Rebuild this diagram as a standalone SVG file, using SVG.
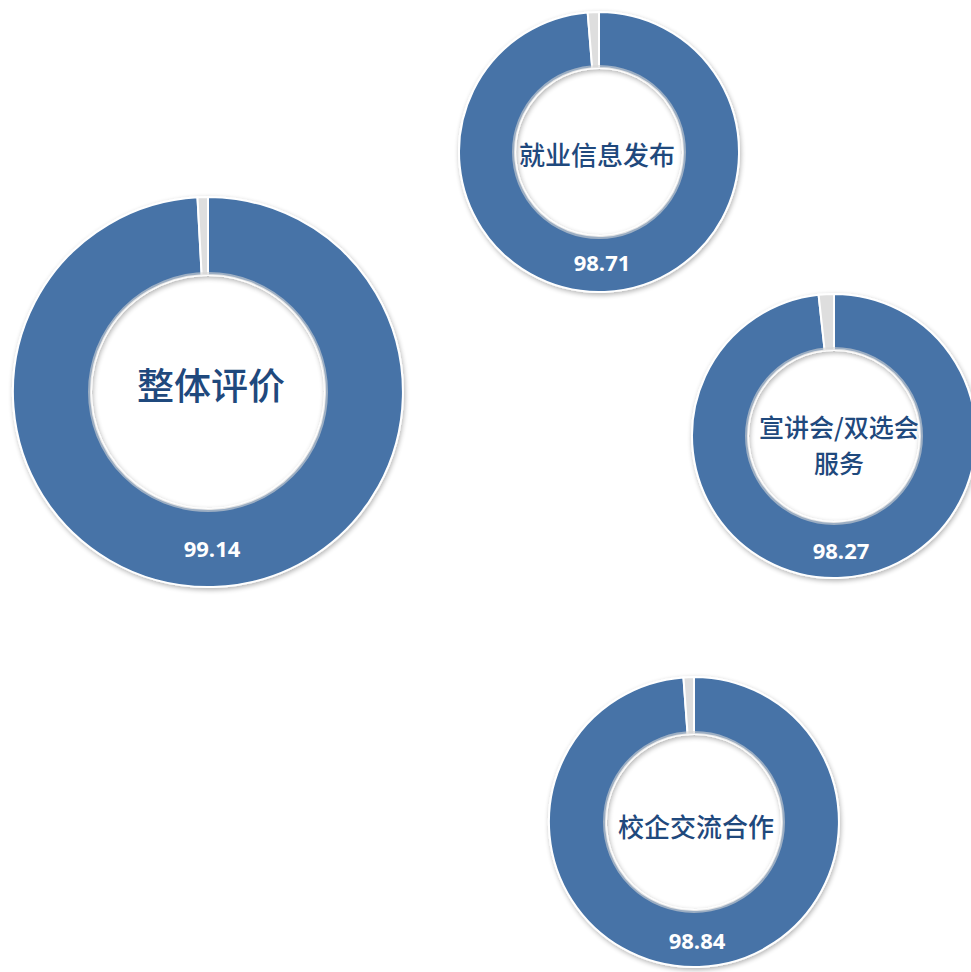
<svg xmlns="http://www.w3.org/2000/svg" width="971" height="972" viewBox="0 0 971 972">
<defs>
<filter id="sh" x="-10%" y="-10%" width="120%" height="120%">
<feGaussianBlur in="SourceAlpha" stdDeviation="2.5"/>
<feOffset dx="1" dy="2" result="b"/>
<feComponentTransfer><feFuncA type="linear" slope="0.3"/></feComponentTransfer>
<feMerge><feMergeNode/><feMergeNode in="SourceGraphic"/></feMerge>
</filter>
<style>
.blue{fill:#4673A7;stroke:#ffffff;stroke-width:2}
.gray{fill:#DEDEDE;stroke:#ffffff;stroke-width:2}
.hole{fill:none;stroke:#d6d6d6;stroke-width:3;opacity:0.6}
.lab{font-family:"Noto Sans CJK SC","Microsoft YaHei",sans-serif;font-weight:500;fill:#1F497D;text-anchor:middle;dominant-baseline:central}
.num{font-family:"Open Sans","Liberation Sans",sans-serif;font-weight:bold;font-size:22px;fill:#ffffff;text-anchor:middle;dominant-baseline:central}
</style>
</defs>
<rect width="971" height="972" fill="#ffffff"/>

<g id="overall">
<g filter="url(#sh)">
<path class="blue" d="M208,197 A195,195 0 1 1 197.47,197.28 L201.68,275.17 A117,117 0 1 0 208,275 Z"/>
<path class="gray" d="M197.47,197.28 A195,195 0 0 1 208,197 L208,275 A117,117 0 0 0 201.68,275.17 Z"/>
</g>
<circle class="hole" cx="208" cy="392" r="118.5"/>
<text class="lab" x="211" y="384" font-size="37">整体评价</text>
<text class="num" x="212" y="548">99.14</text>
</g>

<g id="info">
<g filter="url(#sh)">
<path class="blue" d="M599,12 A140,140 0 1 1 587.67,12.46 L592.20,68.28 A84,84 0 1 0 599,68 Z"/>
<path class="gray" d="M587.67,12.46 A140,140 0 0 1 599,12 L599,68 A84,84 0 0 0 592.20,68.28 Z"/>
</g>
<circle class="hole" cx="599" cy="152" r="85.5"/>
<text class="lab" x="597" y="153" font-size="26">就业信息发布</text>
<text class="num" x="602" y="262">98.71</text>
</g>

<g id="fair">
<g filter="url(#sh)">
<path class="blue" d="M834,294 A142,142 0 1 1 818.59,294.84 L824.67,350.51 A86,86 0 1 0 834,350 Z"/>
<path class="gray" d="M818.59,294.84 A142,142 0 0 1 834,294 L834,350 A86,86 0 0 0 824.67,350.51 Z"/>
</g>
<circle class="hole" cx="834" cy="436" r="87.5"/>
<text class="lab" x="839" y="426" font-size="25">宣讲会/双选会</text>
<text class="lab" x="839" y="462" font-size="25">服务</text>
<text class="num" x="841" y="550">98.27</text>
</g>

<g id="coop">
<g filter="url(#sh)">
<path class="blue" d="M694,677 A145,145 0 1 1 683.44,677.38 L687.59,734.23 A88,88 0 1 0 694,734 Z"/>
<path class="gray" d="M683.44,677.38 A145,145 0 0 1 694,677 L694,734 A88,88 0 0 0 687.59,734.23 Z"/>
</g>
<circle class="hole" cx="694" cy="822" r="89.5"/>
<text class="lab" x="696" y="825" font-size="26">校企交流合作</text>
<text class="num" x="697" y="940">98.84</text>
</g>
<g id="connectors"/>
</svg>
